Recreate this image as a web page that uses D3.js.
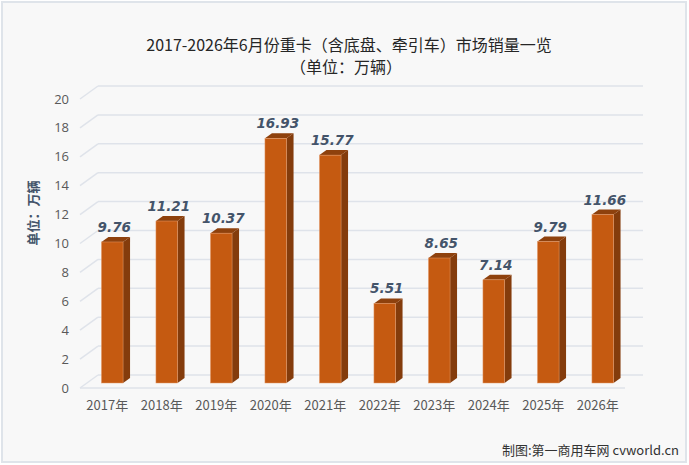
<!DOCTYPE html>
<html>
  <head>
    <meta charset="utf-8">
    <title>6月份重卡市场销量</title>
    <script src="https://d3js.org/d3.v7.min.js"></script>
    <style>
      body { margin: 0; background: #fff; }
      svg { display: block; font-family: "Noto Sans CJK SC", "Noto Sans", sans-serif; }
    </style>
  </head>
  <body>
    <svg id="chart" width="689" height="465"></svg>
    <script>
      // data
      var years = ["2017年", "2018年", "2019年", "2020年", "2021年", "2022年", "2023年", "2024年", "2025年", "2026年"];
      var sales = [9.76, 11.21, 10.37, 16.93, 15.77, 5.51, 8.65, 7.14, 9.79, 11.66];
      var yTicks = [0, 2, 4, 6, 8, 10, 12, 14, 16, 18, 20];

      var svg = d3.select("#chart");
      // page frame
      svg.append("rect")
        .attr("x", 2).attr("y", 2)
        .attr("width", 684).attr("height", 460)
        .attr("fill", "#f8f8f8")
        .attr("stroke", "#dfe4ea")
        .attr("stroke-width", 2);

      // 3d offsets (back wall vs front floor)
      var depthX = 18, depthY = -13;
      var left = 80, right = 625;

      var x = d3.scaleBand().domain(years).range([left, right]);
      var y = d3.scaleLinear().domain([0, 20]).range([388, 99]);

      // back wall gridlines with the diagonal on the left
      var grid = svg.append("g");
      grid.selectAll("line.back")
          .data(yTicks)
        .enter().append("line")
          .attr("x1", left + depthX)
          .attr("x2", right + depthX)
          .attr("y1", function(d) { return y(d) + depthY; })
          .attr("y2", function(d) { return y(d) + depthY; })
          .attr("stroke", "#dfe3ea")
          .attr("stroke-width", 1.5);
      grid.selectAll("line.diag")
          .data(yTicks)
        .enter().append("line")
          .attr("x1", left)
          .attr("x2", left + depthX)
          .attr("y1", function(d) { return y(d); })
          .attr("y2", function(d) { return y(d) + depthY; })
          .attr("stroke", "#dfe3ea")
          .attr("stroke-width", 1.5);
      // front floor edge
      grid.append("line")
        .attr("x1", left).attr("x2", right)
        .attr("y1", y(0)).attr("y2", y(0))
        .attr("stroke", "#dfe3ea")
        .attr("stroke-width", 1.5);

      // y tick labels
      svg.append("g").selectAll("text")
          .data(yTicks)
        .enter().append("text")
          .attr("x", 69)
          .attr("y", function(d) { return y(d); })
          .attr("dy", "0.35em")
          .attr("text-anchor", "end")
          .attr("fill", "#595959")
          .style("font-family", "'Open Sans', 'Noto Sans', sans-serif")
          .style("font-size", "13px")
          .text(function(d) { return d; });

      // bars: front face, side, top
      var barW = 21.6, sideX = 7, sideY = -5, shift = 5, lift = -5;
      var bars = svg.append("g").selectAll("g")
          .data(years.map(function(d, i) { return { year: d, v: sales[i] }; }))
        .enter().append("g")
          .attr("transform", function(d) {
            return "translate(" + (x(d.year) + (x.bandwidth() - barW) / 2 + shift) + "," + lift + ")";
          });
      bars.append("path")
        .attr("d", function(d) {
          var t = y(d.v), b = y(0);
          return "M" + barW + "," + t + "l" + sideX + "," + sideY + "L" + (barW + sideX) + "," + (b + sideY) + "L" + barW + "," + b + "Z";
        })
        .attr("fill", "#843c0c");
      bars.append("path")
        .attr("d", function(d) {
          var t = y(d.v);
          return "M0," + t + "l" + sideX + "," + sideY + "l" + barW + ",0l" + (-sideX) + "," + (-sideY) + "Z";
        })
        .attr("fill", "#8e410d");
      bars.append("rect")
        .attr("x", 0)
        .attr("y", function(d) { return y(d.v); })
        .attr("width", barW)
        .attr("height", function(d) { return y(0) - y(d.v); })
        .attr("fill", "#c55a11")
        .attr("stroke", "#e39a6a")
        .attr("stroke-width", 0.5);
      bars.append("text")
        .attr("x", barW / 2 + 2)
        .attr("y", function(d) { return y(d.v) - 10; })
        .attr("text-anchor", "middle")
        .attr("fill", "#44546a")
        .style("font-family", "'DejaVu Sans', sans-serif")
        .style("font-size", "13.5px")
        .style("font-weight", "bold")
        .style("font-style", "italic")
        .text(function(d) { return d.v.toFixed(2); });

      // x labels
      svg.append("g").selectAll("text")
          .data(years)
        .enter().append("text")
          .attr("x", function(d) { return x(d) + x.bandwidth() / 2; })
          .attr("y", 410)
          .attr("text-anchor", "middle")
          .attr("fill", "#595959")
          .style("font-size", "13px")
          .text(function(d) { return d; });

      // titles
      svg.append("text")
        .attr("x", 349).attr("y", 51)
        .attr("text-anchor", "middle")
        .attr("fill", "#262626")
        .style("font-size", "16px")
        .text("2017-2026年6月份重卡（含底盘、牵引车）市场销量一览");
      svg.append("text")
        .attr("x", 346).attr("y", 73)
        .attr("text-anchor", "middle")
        .attr("fill", "#262626")
        .style("font-size", "16px")
        .text("（单位：万辆）");
      svg.append("text")
        .attr("transform", "translate(38,213) rotate(-90)")
        .attr("text-anchor", "middle")
        .attr("fill", "#44546a")
        .style("font-size", "13px")
        .style("font-weight", "bold")
        .text("单位：万辆");
      svg.append("text")
        .attr("x", 679).attr("y", 455)
        .attr("text-anchor", "end")
        .attr("fill", "#333333")
        .style("font-size", "13px")
        .text("制图:第一商用车网 cvworld.cn");
    </script>
  </body>
</html>
